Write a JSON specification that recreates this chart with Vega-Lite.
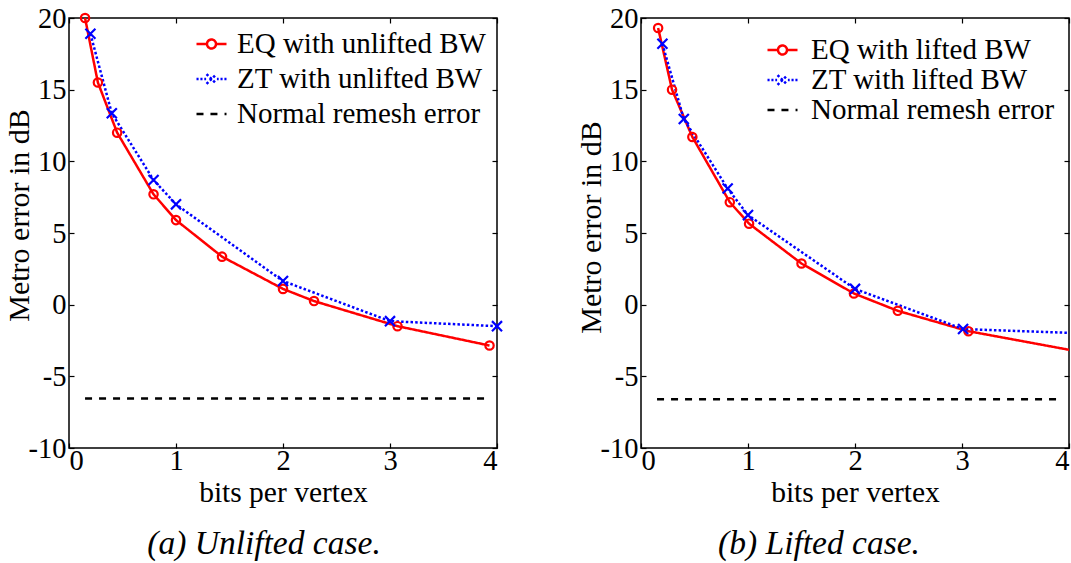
{
  "$schema": "https://vega.github.io/schema/vega-lite/v6.json",
  "padding": {"left": 3, "top": 3, "right": 0, "bottom": 0},
  "spacing": 67,
  "resolve": {"scale": {"color": "independent", "strokeDash": "independent", "shape": "independent", "x": "independent", "y": "independent"}, "legend": {"color": "independent", "strokeDash": "independent", "shape": "independent"}},
  "datasets": {
    "pts": [
      {"panel": "a", "series": "EQ with unlifted BW", "x": 0.15, "y": 20.0},
      {"panel": "a", "series": "EQ with unlifted BW", "x": 0.27, "y": 15.5},
      {"panel": "a", "series": "EQ with unlifted BW", "x": 0.45, "y": 12.0},
      {"panel": "a", "series": "EQ with unlifted BW", "x": 0.79, "y": 7.7},
      {"panel": "a", "series": "EQ with unlifted BW", "x": 1.0, "y": 5.9},
      {"panel": "a", "series": "EQ with unlifted BW", "x": 1.43, "y": 3.35},
      {"panel": "a", "series": "EQ with unlifted BW", "x": 2.0, "y": 1.1},
      {"panel": "a", "series": "EQ with unlifted BW", "x": 2.29, "y": 0.25},
      {"panel": "a", "series": "EQ with unlifted BW", "x": 3.07, "y": -1.5},
      {"panel": "a", "series": "EQ with unlifted BW", "x": 3.93, "y": -2.85},
      {"panel": "a", "series": "ZT with unlifted BW", "x": 0.2, "y": 18.9},
      {"panel": "a", "series": "ZT with unlifted BW", "x": 0.4, "y": 13.35},
      {"panel": "a", "series": "ZT with unlifted BW", "x": 0.79, "y": 8.7},
      {"panel": "a", "series": "ZT with unlifted BW", "x": 1.0, "y": 7.0},
      {"panel": "a", "series": "ZT with unlifted BW", "x": 2.0, "y": 1.65},
      {"panel": "a", "series": "ZT with unlifted BW", "x": 3.0, "y": -1.15},
      {"panel": "a", "series": "ZT with unlifted BW", "x": 4.0, "y": -1.5},
      {"panel": "a", "series": "Normal remesh error", "x": 0.15, "y": -6.55},
      {"panel": "a", "series": "Normal remesh error", "x": 3.93, "y": -6.55},
      {"panel": "b", "series": "EQ with lifted BW", "x": 0.16, "y": 19.3},
      {"panel": "b", "series": "EQ with lifted BW", "x": 0.29, "y": 15.0},
      {"panel": "b", "series": "EQ with lifted BW", "x": 0.48, "y": 11.7},
      {"panel": "b", "series": "EQ with lifted BW", "x": 0.83, "y": 7.15},
      {"panel": "b", "series": "EQ with lifted BW", "x": 1.01, "y": 5.65},
      {"panel": "b", "series": "EQ with lifted BW", "x": 1.5, "y": 2.87},
      {"panel": "b", "series": "EQ with lifted BW", "x": 1.99, "y": 0.78},
      {"panel": "b", "series": "EQ with lifted BW", "x": 2.4, "y": -0.43},
      {"panel": "b", "series": "EQ with lifted BW", "x": 3.06, "y": -1.85},
      {"panel": "b", "series": "EQ with lifted BW", "x": 4.4, "y": -3.7},
      {"panel": "b", "series": "ZT with lifted BW", "x": 0.2, "y": 18.2},
      {"panel": "b", "series": "ZT with lifted BW", "x": 0.4, "y": 12.95},
      {"panel": "b", "series": "ZT with lifted BW", "x": 0.81, "y": 8.1},
      {"panel": "b", "series": "ZT with lifted BW", "x": 1.0, "y": 6.25},
      {"panel": "b", "series": "ZT with lifted BW", "x": 2.0, "y": 1.1},
      {"panel": "b", "series": "ZT with lifted BW", "x": 3.01, "y": -1.7},
      {"panel": "b", "series": "ZT with lifted BW", "x": 4.4, "y": -2.07},
      {"panel": "b", "series": "Normal remesh error", "x": 0.15, "y": -6.6},
      {"panel": "b", "series": "Normal remesh error", "x": 3.91, "y": -6.6}
    ]
  },
  "hconcat": [
    {
      "width": 428,
      "height": 430,
      "data": {"name": "pts"},
      "transform": [{"filter": "datum.panel === 'a'"}],
      "title": {"text": "(a) Unlifted case.", "orient": "bottom", "anchor": "middle", "font": "Liberation Serif", "fontStyle": "italic", "fontWeight": "normal", "fontSize": 33.5, "color": "black", "offset": 21, "dx": -19},
      "resolve": {"axis": {"x": "independent", "y": "independent"}},
      "layer": [
        {
          "transform": [{"filter": "datum.series !== 'Normal remesh error'"}],
          "mark": {"type": "line", "strokeWidth": 2.5, "clip": true},
          "encoding": {
            "x": {"field": "x", "type": "quantitative", "scale": {"domain": [0, 4], "nice": false, "zero": false},
                  "axis": {"orient": "bottom", "values": [0, 1, 2, 3, 4], "title": "bits per vertex", "labelExpr": "'' + datum.value", "labelPadding": 3, "titlePadding": 4, "titleFontSize": 29.5}},
            "y": {"field": "y", "type": "quantitative", "scale": {"domain": [-10, 20], "nice": false},
                  "axis": {"orient": "left", "values": [-10, -5, 0, 5, 10, 15, 20], "title": "Metro error in dB", "labelExpr": "'' + datum.value", "labelPadding": 8, "titlePadding": -6, "titleFontSize": 30, "titleY": 197}},
            "color": {"field": "series", "type": "nominal",
                      "scale": {"domain": ["EQ with unlifted BW", "ZT with unlifted BW", "Normal remesh error"], "range": ["#ff0000", "#0000ff", "#000000"]},
                      "legend": {"title": null, "orient": "none", "legendX": 126, "legendY": 9.5, "clipHeight": 33, "rowPadding": 2, "labelOffset": 9,
                        "encode": {"symbols": {"update": {
                          "shape": [
                            {"test": "indexof(datum.value, 'EQ') === 0", "value": "M-1,0H-0.3M0.3,0H1M-0.3,0A0.3,0.3 0 1,0 0.3,0A0.3,0.3 0 1,0 -0.3,0"},
                            {"test": "indexof(datum.value, 'ZT') === 0", "value": "M-1,0H-0.86M-0.74,0H-0.6M-0.48,0H-0.36M0.36,0H0.48M0.6,0H0.74M0.86,0H1M-0.33,-0.33L0.33,0.33M-0.33,0.33L0.33,-0.33"},
                            {"value": "M-1,0H-0.53M-0.07,0H0.4M0.87,0H1"}
                          ],
                          "strokeDash": {"value": [1, 0]},
                          "strokeWidth": {"value": 2.5},
                          "fill": {"value": "transparent"},
                          "opacity": {"value": 1}
                        }}}}},
            "strokeDash": {"field": "series", "type": "nominal",
                           "scale": {"domain": ["EQ with unlifted BW", "ZT with unlifted BW", "Normal remesh error"], "range": [[1, 0], [2.5, 2.2], [7, 7]]},
                           "legend": null},
            "order": {"field": "x"}
          }
        },
        {
          "transform": [{"filter": "datum.series !== 'Normal remesh error'"}],
          "mark": {"type": "point", "filled": false, "strokeWidth": 2.2, "size": 70, "opacity": 1},
          "encoding": {
            "x": {"field": "x", "type": "quantitative", "axis": null},
            "y": {"field": "y", "type": "quantitative", "axis": null},
            "color": {"field": "series", "type": "nominal", "legend": null},
            "shape": {"field": "series", "type": "nominal",
                      "scale": {"domain": ["EQ with unlifted BW", "ZT with unlifted BW"], "range": ["circle", "M-1.2,-1.2L1.2,1.2M-1.2,1.2L1.2,-1.2"]},
                      "legend": null}
          }
        },
        {
          "transform": [{"filter": "datum.series === 'Normal remesh error'"}],
          "mark": {"type": "line", "strokeWidth": 2.5, "strokeDash": [7, 7], "color": "black"},
          "encoding": {
            "x": {"field": "x", "type": "quantitative",
                  "axis": {"orient": "top", "values": [0, 1, 2, 3, 4], "labels": false, "title": null}},
            "y": {"field": "y", "type": "quantitative",
                  "axis": {"orient": "right", "values": [-10, -5, 0, 5, 10, 15, 20], "labels": false, "title": null}}
          }
        }
      ]
    },
    {
      "width": 428,
      "height": 430,
      "data": {"name": "pts"},
      "transform": [{"filter": "datum.panel === 'b'"}],
      "title": {"text": "(b) Lifted case.", "orient": "bottom", "anchor": "middle", "font": "Liberation Serif", "fontStyle": "italic", "fontWeight": "normal", "fontSize": 33.5, "color": "black", "offset": 21, "dx": -36},
      "resolve": {"axis": {"x": "independent", "y": "independent"}},
      "layer": [
        {
          "transform": [{"filter": "datum.series !== 'Normal remesh error'"}],
          "mark": {"type": "line", "strokeWidth": 2.5, "clip": true},
          "encoding": {
            "x": {"field": "x", "type": "quantitative", "scale": {"domain": [0, 4], "nice": false, "zero": false},
                  "axis": {"orient": "bottom", "values": [0, 1, 2, 3, 4], "title": "bits per vertex", "labelExpr": "'' + datum.value", "labelPadding": 3, "titlePadding": 4, "titleFontSize": 29.5}},
            "y": {"field": "y", "type": "quantitative", "scale": {"domain": [-10, 20], "nice": false},
                  "axis": {"orient": "left", "values": [-10, -5, 0, 5, 10, 15, 20], "title": "Metro error in dB", "labelExpr": "'' + datum.value", "labelPadding": 8, "titlePadding": -6, "titleFontSize": 30, "titleY": 209}},
            "color": {"field": "series", "type": "nominal",
                      "scale": {"domain": ["EQ with lifted BW", "ZT with lifted BW", "Normal remesh error"], "range": ["#ff0000", "#0000ff", "#000000"]},
                      "legend": {"title": null, "orient": "none", "legendX": 125, "legendY": 17.5, "clipHeight": 29, "rowPadding": 0, "labelOffset": 12,
                        "encode": {"symbols": {"update": {
                          "shape": [
                            {"test": "indexof(datum.value, 'EQ') === 0", "value": "M-1,0H-0.3M0.3,0H1M-0.3,0A0.3,0.3 0 1,0 0.3,0A0.3,0.3 0 1,0 -0.3,0"},
                            {"test": "indexof(datum.value, 'ZT') === 0", "value": "M-1,0H-0.86M-0.74,0H-0.6M-0.48,0H-0.36M0.36,0H0.48M0.6,0H0.74M0.86,0H1M-0.33,-0.33L0.33,0.33M-0.33,0.33L0.33,-0.33"},
                            {"value": "M-1,0H-0.53M-0.07,0H0.4M0.87,0H1"}
                          ],
                          "strokeDash": {"value": [1, 0]},
                          "strokeWidth": {"value": 2.5},
                          "fill": {"value": "transparent"},
                          "opacity": {"value": 1}
                        }}}}},
            "strokeDash": {"field": "series", "type": "nominal",
                           "scale": {"domain": ["EQ with lifted BW", "ZT with lifted BW", "Normal remesh error"], "range": [[1, 0], [2.5, 2.2], [7, 7]]},
                           "legend": null},
            "order": {"field": "x"}
          }
        },
        {
          "transform": [{"filter": "datum.series !== 'Normal remesh error'"}],
          "mark": {"type": "point", "filled": false, "strokeWidth": 2.2, "size": 70, "opacity": 1, "clip": true},
          "encoding": {
            "x": {"field": "x", "type": "quantitative", "axis": null},
            "y": {"field": "y", "type": "quantitative", "axis": null},
            "color": {"field": "series", "type": "nominal", "legend": null},
            "shape": {"field": "series", "type": "nominal",
                      "scale": {"domain": ["EQ with lifted BW", "ZT with lifted BW"], "range": ["circle", "M-1.2,-1.2L1.2,1.2M-1.2,1.2L1.2,-1.2"]},
                      "legend": null}
          }
        },
        {
          "transform": [{"filter": "datum.series === 'Normal remesh error'"}],
          "mark": {"type": "line", "strokeWidth": 2.5, "strokeDash": [7, 7], "color": "black"},
          "encoding": {
            "x": {"field": "x", "type": "quantitative",
                  "axis": {"orient": "top", "values": [0, 1, 2, 3, 4], "labels": false, "title": null}},
            "y": {"field": "y", "type": "quantitative",
                  "axis": {"orient": "right", "values": [-10, -5, 0, 5, 10, 15, 20], "labels": false, "title": null}}
          }
        }
      ]
    }
  ],
  "config": {
    "font": "Liberation Serif",
    "background": "white",
    "view": {"stroke": "black", "strokeWidth": 1.5},
    "axis": {"grid": false, "domain": false, "labelFont": "Liberation Serif", "labelFontSize": 28.5, "labelColor": "black",
             "tickColor": "black", "tickSize": -5, "tickWidth": 1.2, "labelPadding": 3,
             "titleFont": "Liberation Serif", "titleFontSize": 28, "titleFontWeight": "normal", "titleColor": "black"},
    "legend": {"labelFont": "Liberation Serif", "labelFontSize": 29, "labelColor": "black", "symbolSize": 900, "symbolStrokeWidth": 2.5, "padding": 0, "labelLimit": 400}
  }
}
